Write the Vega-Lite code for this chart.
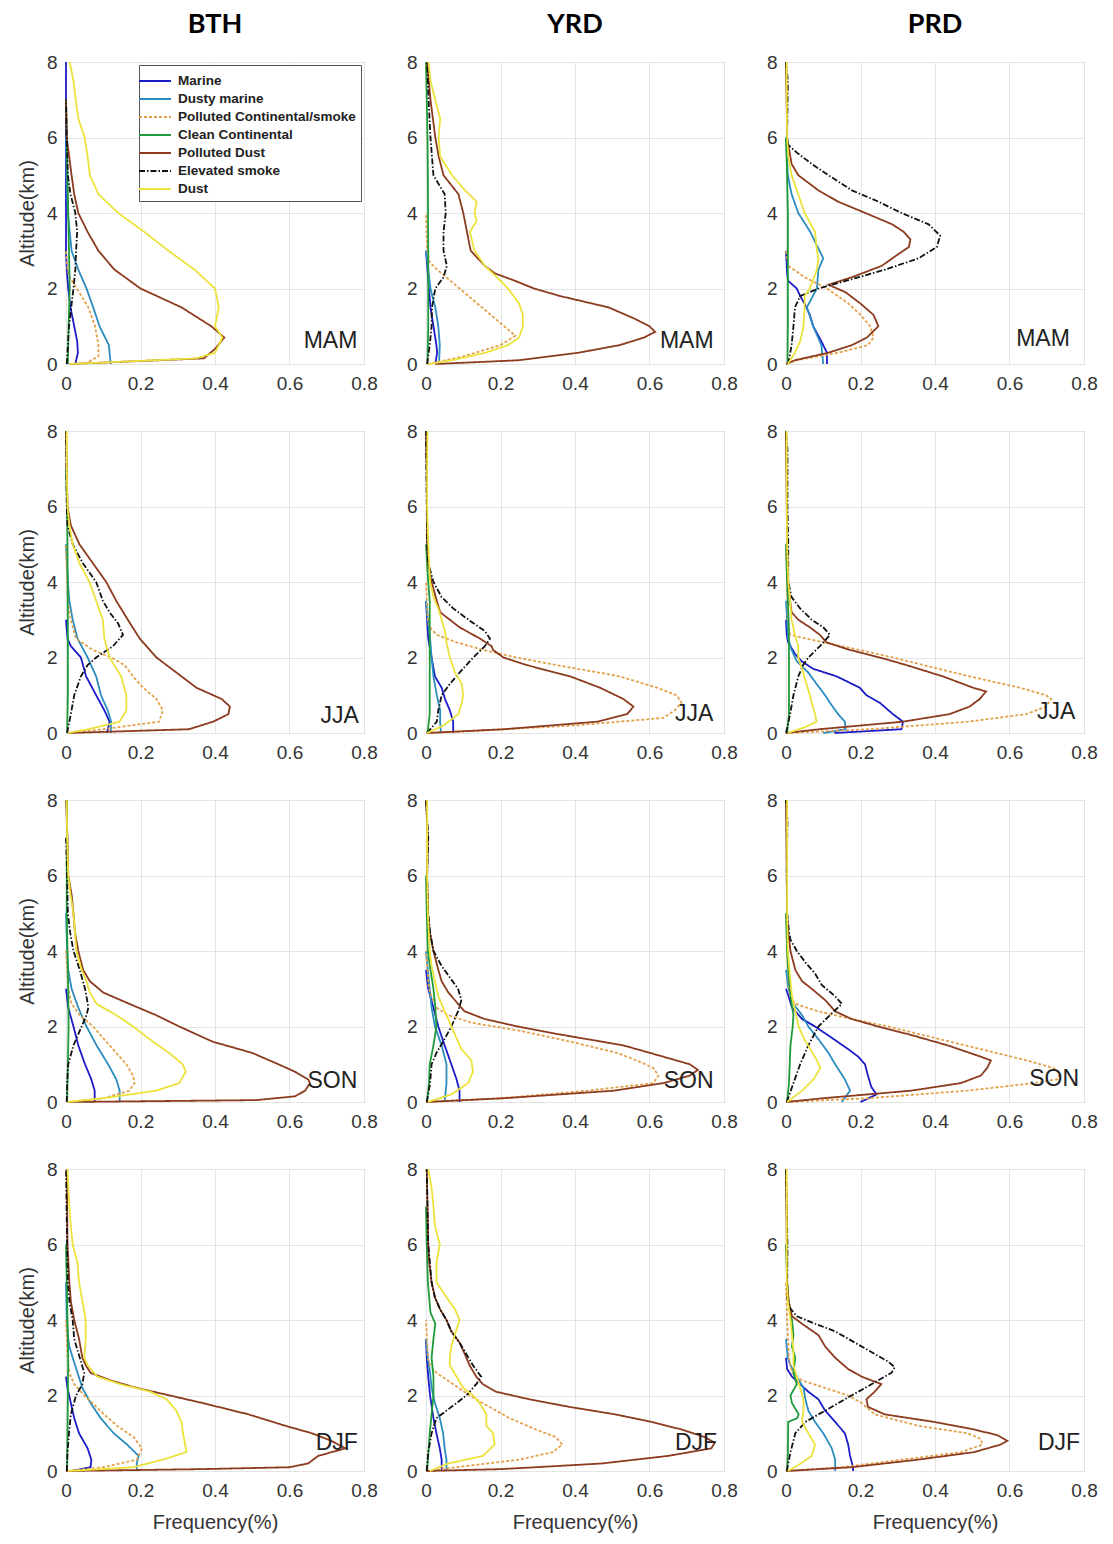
{
"$schema":"https://vega.github.io/schema/vega-lite/v6.json",
"padding":{"left":16,"top":10,"right":5,"bottom":5},
"background":"white",
"datasets":{
"BTH_MAM":[
{"t":"M","a":0,"f":0.025},{"t":"M","a":0.3,"f":0.032},{"t":"M","a":0.6,"f":0.03},{"t":"M","a":1,"f":0.022},{"t":"M","a":1.5,"f":0.012},{"t":"M","a":2,"f":0.006},{"t":"M","a":2.5,"f":0.002},{"t":"M","a":3,"f":0},{"t":"M","a":8,"f":0},
{"t":"DM","a":0,"f":0.12},{"t":"DM","a":0.5,"f":0.115},{"t":"DM","a":1,"f":0.09},{"t":"DM","a":1.5,"f":0.073},{"t":"DM","a":2,"f":0.055},{"t":"DM","a":2.5,"f":0.033},{"t":"DM","a":3,"f":0.015},{"t":"DM","a":4,"f":0.005},{"t":"DM","a":5,"f":0.002},{"t":"DM","a":6,"f":0},
{"t":"PC","a":0,"f":0.05},{"t":"PC","a":0.2,"f":0.087},{"t":"PC","a":0.5,"f":0.087},{"t":"PC","a":1,"f":0.078},{"t":"PC","a":1.5,"f":0.06},{"t":"PC","a":2,"f":0.029},{"t":"PC","a":2.3,"f":0.01},{"t":"PC","a":2.5,"f":0.004},{"t":"PC","a":3,"f":0},
{"t":"CC","a":0,"f":0.005},{"t":"CC","a":1,"f":0.007},{"t":"CC","a":2,"f":0.01},{"t":"CC","a":3,"f":0.008},{"t":"CC","a":4,"f":0.006},{"t":"CC","a":5,"f":0.004},{"t":"CC","a":6,"f":0.002},{"t":"CC","a":7,"f":0},
{"t":"PD","a":0,"f":0.01},{"t":"PD","a":0.15,"f":0.37},{"t":"PD","a":0.4,"f":0.4},{"t":"PD","a":0.7,"f":0.425},{"t":"PD","a":1,"f":0.39},{"t":"PD","a":1.5,"f":0.31},{"t":"PD","a":2,"f":0.2},{"t":"PD","a":2.5,"f":0.13},{"t":"PD","a":3,"f":0.087},{"t":"PD","a":3.5,"f":0.058},{"t":"PD","a":4,"f":0.033},{"t":"PD","a":4.5,"f":0.022},{"t":"PD","a":5,"f":0.015},{"t":"PD","a":6,"f":0.002},{"t":"PD","a":7,"f":0},
{"t":"ES","a":0,"f":0.002},{"t":"ES","a":1,"f":0.008},{"t":"ES","a":2,"f":0.02},{"t":"ES","a":2.5,"f":0.025},{"t":"ES","a":3,"f":0.027},{"t":"ES","a":3.5,"f":0.03},{"t":"ES","a":4,"f":0.025},{"t":"ES","a":4.5,"f":0.012},{"t":"ES","a":5,"f":0.005},{"t":"ES","a":6,"f":0.002},{"t":"ES","a":7,"f":0},
{"t":"D","a":0,"f":0.01},{"t":"D","a":0.15,"f":0.35},{"t":"D","a":0.3,"f":0.4},{"t":"D","a":0.7,"f":0.42},{"t":"D","a":1,"f":0.4},{"t":"D","a":1.5,"f":0.41},{"t":"D","a":2,"f":0.4},{"t":"D","a":2.5,"f":0.345},{"t":"D","a":3,"f":0.275},{"t":"D","a":3.5,"f":0.21},{"t":"D","a":4,"f":0.14},{"t":"D","a":4.5,"f":0.087},{"t":"D","a":5,"f":0.064},{"t":"D","a":5.5,"f":0.058},{"t":"D","a":6,"f":0.05},{"t":"D","a":6.5,"f":0.033},{"t":"D","a":7,"f":0.026},{"t":"D","a":7.5,"f":0.02},{"t":"D","a":8,"f":0.01}
],
"YRD_MAM":[
{"t":"M","a":0,"f":0.025},{"t":"M","a":0.3,"f":0.03},{"t":"M","a":0.5,"f":0.028},{"t":"M","a":1,"f":0.02},{"t":"M","a":1.5,"f":0.012},{"t":"M","a":2,"f":0.008},{"t":"M","a":2.5,"f":0.004},{"t":"M","a":3,"f":0},
{"t":"DM","a":0,"f":0.035},{"t":"DM","a":0.5,"f":0.037},{"t":"DM","a":1,"f":0.033},{"t":"DM","a":1.5,"f":0.025},{"t":"DM","a":2,"f":0.012},{"t":"DM","a":2.5,"f":0.006},{"t":"DM","a":3,"f":0},
{"t":"PC","a":0,"f":0.005},{"t":"PC","a":0.2,"f":0.1},{"t":"PC","a":0.5,"f":0.2},{"t":"PC","a":0.75,"f":0.24},{"t":"PC","a":1,"f":0.21},{"t":"PC","a":1.5,"f":0.15},{"t":"PC","a":2,"f":0.09},{"t":"PC","a":2.5,"f":0.03},{"t":"PC","a":2.7,"f":0.01},{"t":"PC","a":3,"f":0.003},{"t":"PC","a":4,"f":0},
{"t":"CC","a":0,"f":0.004},{"t":"CC","a":1,"f":0.006},{"t":"CC","a":3,"f":0.006},{"t":"CC","a":5,"f":0.005},{"t":"CC","a":6,"f":0.004},{"t":"CC","a":7,"f":0.002},{"t":"CC","a":8,"f":0},
{"t":"PD","a":0,"f":0.025},{"t":"PD","a":0.1,"f":0.25},{"t":"PD","a":0.3,"f":0.41},{"t":"PD","a":0.5,"f":0.52},{"t":"PD","a":0.7,"f":0.585},{"t":"PD","a":0.85,"f":0.615},{"t":"PD","a":1,"f":0.6},{"t":"PD","a":1.2,"f":0.56},{"t":"PD","a":1.5,"f":0.49},{"t":"PD","a":1.8,"f":0.36},{"t":"PD","a":2,"f":0.29},{"t":"PD","a":2.2,"f":0.24},{"t":"PD","a":2.4,"f":0.185},{"t":"PD","a":2.6,"f":0.158},{"t":"PD","a":3,"f":0.12},{"t":"PD","a":3.5,"f":0.11},{"t":"PD","a":4,"f":0.1},{"t":"PD","a":4.5,"f":0.087},{"t":"PD","a":5,"f":0.047},{"t":"PD","a":5.5,"f":0.034},{"t":"PD","a":6,"f":0.025},{"t":"PD","a":7,"f":0.012},{"t":"PD","a":8,"f":0.003},
{"t":"ES","a":0,"f":0.003},{"t":"ES","a":0.5,"f":0.01},{"t":"ES","a":1,"f":0.015},{"t":"ES","a":1.5,"f":0.016},{"t":"ES","a":2,"f":0.025},{"t":"ES","a":2.3,"f":0.047},{"t":"ES","a":2.6,"f":0.056},{"t":"ES","a":3,"f":0.047},{"t":"ES","a":3.5,"f":0.047},{"t":"ES","a":4,"f":0.053},{"t":"ES","a":4.5,"f":0.05},{"t":"ES","a":5,"f":0.02},{"t":"ES","a":5.5,"f":0.016},{"t":"ES","a":6,"f":0.012},{"t":"ES","a":7,"f":0.007},{"t":"ES","a":8,"f":0.003},
{"t":"D","a":0,"f":0.007},{"t":"D","a":0.1,"f":0.07},{"t":"D","a":0.3,"f":0.16},{"t":"D","a":0.5,"f":0.22},{"t":"D","a":0.7,"f":0.25},{"t":"D","a":1,"f":0.26},{"t":"D","a":1.3,"f":0.26},{"t":"D","a":1.6,"f":0.25},{"t":"D","a":2,"f":0.22},{"t":"D","a":2.3,"f":0.19},{"t":"D","a":2.6,"f":0.158},{"t":"D","a":3,"f":0.13},{"t":"D","a":3.5,"f":0.118},{"t":"D","a":3.8,"f":0.136},{"t":"D","a":4,"f":0.13},{"t":"D","a":4.3,"f":0.136},{"t":"D","a":4.6,"f":0.105},{"t":"D","a":5,"f":0.07},{"t":"D","a":5.5,"f":0.038},{"t":"D","a":6,"f":0.034},{"t":"D","a":6.5,"f":0.038},{"t":"D","a":7,"f":0.025},{"t":"D","a":7.5,"f":0.012},{"t":"D","a":8,"f":0.007}
],
"PRD_MAM":[
{"t":"M","a":0,"f":0.11},{"t":"M","a":0.3,"f":0.11},{"t":"M","a":0.6,"f":0.095},{"t":"M","a":1,"f":0.073},{"t":"M","a":1.3,"f":0.064},{"t":"M","a":1.6,"f":0.05},{"t":"M","a":1.8,"f":0.038},{"t":"M","a":2,"f":0.029},{"t":"M","a":2.2,"f":0.006},{"t":"M","a":2.4,"f":0.003},{"t":"M","a":3,"f":0},
{"t":"DM","a":0,"f":0.1},{"t":"DM","a":0.5,"f":0.095},{"t":"DM","a":1,"f":0.073},{"t":"DM","a":1.5,"f":0.056},{"t":"DM","a":2,"f":0.083},{"t":"DM","a":2.5,"f":0.087},{"t":"DM","a":2.8,"f":0.1},{"t":"DM","a":3,"f":0.09},{"t":"DM","a":3.5,"f":0.065},{"t":"DM","a":4,"f":0.033},{"t":"DM","a":4.5,"f":0.015},{"t":"DM","a":5,"f":0.005},{"t":"DM","a":6,"f":0},
{"t":"PC","a":0,"f":0},{"t":"PC","a":0.1,"f":0.03},{"t":"PC","a":0.3,"f":0.14},{"t":"PC","a":0.5,"f":0.22},{"t":"PC","a":0.7,"f":0.235},{"t":"PC","a":1,"f":0.226},{"t":"PC","a":1.3,"f":0.2},{"t":"PC","a":1.6,"f":0.168},{"t":"PC","a":2,"f":0.11},{"t":"PC","a":2.3,"f":0.05},{"t":"PC","a":2.6,"f":0.006},{"t":"PC","a":3,"f":0},
{"t":"CC","a":0,"f":0.004},{"t":"CC","a":1,"f":0.005},{"t":"CC","a":4,"f":0.005},{"t":"CC","a":5,"f":0.003},{"t":"CC","a":6,"f":0},
{"t":"PD","a":0,"f":0},{"t":"PD","a":0.1,"f":0.024},{"t":"PD","a":0.3,"f":0.114},{"t":"PD","a":0.5,"f":0.177},{"t":"PD","a":0.7,"f":0.217},{"t":"PD","a":1,"f":0.248},{"t":"PD","a":1.3,"f":0.235},{"t":"PD","a":1.6,"f":0.2},{"t":"PD","a":1.9,"f":0.16},{"t":"PD","a":2.1,"f":0.114},{"t":"PD","a":2.3,"f":0.177},{"t":"PD","a":2.6,"f":0.257},{"t":"PD","a":2.9,"f":0.3},{"t":"PD","a":3.1,"f":0.33},{"t":"PD","a":3.3,"f":0.334},{"t":"PD","a":3.5,"f":0.316},{"t":"PD","a":3.7,"f":0.285},{"t":"PD","a":4,"f":0.213},{"t":"PD","a":4.3,"f":0.14},{"t":"PD","a":4.6,"f":0.087},{"t":"PD","a":5,"f":0.033},{"t":"PD","a":5.3,"f":0.015},{"t":"PD","a":6,"f":0.003},{"t":"PD","a":8,"f":0},
{"t":"ES","a":0,"f":0.006},{"t":"ES","a":0.5,"f":0.015},{"t":"ES","a":1,"f":0.02},{"t":"ES","a":1.5,"f":0.024},{"t":"ES","a":1.8,"f":0.038},{"t":"ES","a":2,"f":0.087},{"t":"ES","a":2.2,"f":0.16},{"t":"ES","a":2.5,"f":0.266},{"t":"ES","a":2.8,"f":0.356},{"t":"ES","a":3.1,"f":0.405},{"t":"ES","a":3.4,"f":0.414},{"t":"ES","a":3.7,"f":0.383},{"t":"ES","a":4,"f":0.31},{"t":"ES","a":4.3,"f":0.248},{"t":"ES","a":4.6,"f":0.177},{"t":"ES","a":5,"f":0.114},{"t":"ES","a":5.3,"f":0.069},{"t":"ES","a":5.6,"f":0.029},{"t":"ES","a":5.8,"f":0.006},{"t":"ES","a":6,"f":0.003},{"t":"ES","a":7.5,"f":0.005},{"t":"ES","a":8,"f":0},
{"t":"D","a":0,"f":0.005},{"t":"D","a":0.3,"f":0.024},{"t":"D","a":0.6,"f":0.038},{"t":"D","a":1,"f":0.047},{"t":"D","a":1.5,"f":0.05},{"t":"D","a":1.8,"f":0.05},{"t":"D","a":2,"f":0.064},{"t":"D","a":2.5,"f":0.083},{"t":"D","a":2.8,"f":0.087},{"t":"D","a":3,"f":0.083},{"t":"D","a":3.5,"f":0.078},{"t":"D","a":4,"f":0.05},{"t":"D","a":4.5,"f":0.033},{"t":"D","a":5,"f":0.015},{"t":"D","a":5.5,"f":0.006},{"t":"D","a":6,"f":0.003},{"t":"D","a":7,"f":0.002},{"t":"D","a":8,"f":0.002}
],
"BTH_JJA":[
{"t":"M","a":0,"f":0.11},{"t":"M","a":0.3,"f":0.117},{"t":"M","a":0.6,"f":0.103},{"t":"M","a":1,"f":0.081},{"t":"M","a":1.5,"f":0.054},{"t":"M","a":2,"f":0.04},{"t":"M","a":2.3,"f":0.013},{"t":"M","a":2.5,"f":0.004},{"t":"M","a":3,"f":0},
{"t":"DM","a":0,"f":0.12},{"t":"DM","a":0.3,"f":0.121},{"t":"DM","a":0.6,"f":0.112},{"t":"DM","a":1,"f":0.094},{"t":"DM","a":1.5,"f":0.081},{"t":"DM","a":2,"f":0.058},{"t":"DM","a":2.5,"f":0.031},{"t":"DM","a":3,"f":0.018},{"t":"DM","a":3.5,"f":0.009},{"t":"DM","a":4,"f":0.005},{"t":"DM","a":5,"f":0},
{"t":"PC","a":0,"f":0.005},{"t":"PC","a":0.1,"f":0.1},{"t":"PC","a":0.3,"f":0.25},{"t":"PC","a":0.6,"f":0.26},{"t":"PC","a":0.9,"f":0.243},{"t":"PC","a":1.2,"f":0.207},{"t":"PC","a":1.5,"f":0.18},{"t":"PC","a":1.8,"f":0.157},{"t":"PC","a":2,"f":0.121},{"t":"PC","a":2.2,"f":0.072},{"t":"PC","a":2.5,"f":0.027},{"t":"PC","a":3,"f":0.013},{"t":"PC","a":3.5,"f":0.005},{"t":"PC","a":4,"f":0.003},{"t":"PC","a":5,"f":0},
{"t":"CC","a":0,"f":0.003},{"t":"CC","a":1,"f":0.005},{"t":"CC","a":3,"f":0.005},{"t":"CC","a":5,"f":0.004},{"t":"CC","a":6,"f":0.003},{"t":"CC","a":7,"f":0},
{"t":"PD","a":0,"f":0.005},{"t":"PD","a":0.1,"f":0.33},{"t":"PD","a":0.3,"f":0.395},{"t":"PD","a":0.5,"f":0.436},{"t":"PD","a":0.7,"f":0.44},{"t":"PD","a":0.9,"f":0.418},{"t":"PD","a":1.2,"f":0.35},{"t":"PD","a":1.5,"f":0.31},{"t":"PD","a":2,"f":0.243},{"t":"PD","a":2.5,"f":0.198},{"t":"PD","a":3,"f":0.166},{"t":"PD","a":3.5,"f":0.135},{"t":"PD","a":4,"f":0.108},{"t":"PD","a":4.5,"f":0.072},{"t":"PD","a":5,"f":0.036},{"t":"PD","a":5.5,"f":0.013},{"t":"PD","a":6,"f":0.004},{"t":"PD","a":7,"f":0.002},{"t":"PD","a":8,"f":0},
{"t":"ES","a":0,"f":0.003},{"t":"ES","a":0.5,"f":0.013},{"t":"ES","a":1,"f":0.022},{"t":"ES","a":1.5,"f":0.04},{"t":"ES","a":1.8,"f":0.058},{"t":"ES","a":2,"f":0.081},{"t":"ES","a":2.3,"f":0.126},{"t":"ES","a":2.6,"f":0.153},{"t":"ES","a":2.9,"f":0.14},{"t":"ES","a":3.2,"f":0.117},{"t":"ES","a":3.5,"f":0.099},{"t":"ES","a":4,"f":0.081},{"t":"ES","a":4.5,"f":0.045},{"t":"ES","a":5,"f":0.018},{"t":"ES","a":5.5,"f":0.004},{"t":"ES","a":6,"f":0.002},{"t":"ES","a":8,"f":0},
{"t":"D","a":0,"f":0.005},{"t":"D","a":0.1,"f":0.06},{"t":"D","a":0.3,"f":0.144},{"t":"D","a":0.6,"f":0.162},{"t":"D","a":1,"f":0.162},{"t":"D","a":1.5,"f":0.148},{"t":"D","a":2,"f":0.117},{"t":"D","a":2.5,"f":0.103},{"t":"D","a":3,"f":0.099},{"t":"D","a":3.5,"f":0.081},{"t":"D","a":4,"f":0.063},{"t":"D","a":4.5,"f":0.036},{"t":"D","a":5,"f":0.018},{"t":"D","a":5.5,"f":0.009},{"t":"D","a":6,"f":0.004},{"t":"D","a":7,"f":0.002},{"t":"D","a":8,"f":0.002}
],
"YRD_JJA":[
{"t":"M","a":0,"f":0.073},{"t":"M","a":0.3,"f":0.073},{"t":"M","a":0.6,"f":0.064},{"t":"M","a":0.9,"f":0.051},{"t":"M","a":1.2,"f":0.042},{"t":"M","a":1.5,"f":0.024},{"t":"M","a":2,"f":0.015},{"t":"M","a":2.5,"f":0.006},{"t":"M","a":3,"f":0.003},{"t":"M","a":3.5,"f":0},
{"t":"DM","a":0,"f":0.04},{"t":"DM","a":0.3,"f":0.038},{"t":"DM","a":0.6,"f":0.038},{"t":"DM","a":1,"f":0.029},{"t":"DM","a":1.5,"f":0.02},{"t":"DM","a":2,"f":0.015},{"t":"DM","a":2.5,"f":0.011},{"t":"DM","a":3,"f":0.005},{"t":"DM","a":3.5,"f":0},
{"t":"PC","a":0,"f":0.002},{"t":"PC","a":0.05,"f":0.12},{"t":"PC","a":0.2,"f":0.4},{"t":"PC","a":0.4,"f":0.637},{"t":"PC","a":0.6,"f":0.668},{"t":"PC","a":0.8,"f":0.686},{"t":"PC","a":1,"f":0.673},{"t":"PC","a":1.2,"f":0.62},{"t":"PC","a":1.5,"f":0.52},{"t":"PC","a":1.8,"f":0.35},{"t":"PC","a":2,"f":0.243},{"t":"PC","a":2.2,"f":0.154},{"t":"PC","a":2.4,"f":0.082},{"t":"PC","a":2.6,"f":0.029},{"t":"PC","a":2.8,"f":0.01},{"t":"PC","a":3,"f":0.005},{"t":"PC","a":4,"f":0},
{"t":"CC","a":0,"f":0.004},{"t":"CC","a":0.5,"f":0.01},{"t":"CC","a":3.5,"f":0.01},{"t":"CC","a":4,"f":0.006},{"t":"CC","a":4.5,"f":0.003},{"t":"CC","a":5,"f":0},
{"t":"PD","a":0,"f":0.003},{"t":"PD","a":0.1,"f":0.21},{"t":"PD","a":0.3,"f":0.46},{"t":"PD","a":0.5,"f":0.54},{"t":"PD","a":0.7,"f":0.557},{"t":"PD","a":0.9,"f":0.53},{"t":"PD","a":1.2,"f":0.467},{"t":"PD","a":1.5,"f":0.387},{"t":"PD","a":1.8,"f":0.27},{"t":"PD","a":2,"f":0.208},{"t":"PD","a":2.2,"f":0.18},{"t":"PD","a":2.3,"f":0.176},{"t":"PD","a":2.5,"f":0.145},{"t":"PD","a":2.8,"f":0.09},{"t":"PD","a":3,"f":0.064},{"t":"PD","a":3.2,"f":0.038},{"t":"PD","a":3.5,"f":0.029},{"t":"PD","a":4,"f":0.015},{"t":"PD","a":4.5,"f":0.006},{"t":"PD","a":5,"f":0.003},{"t":"PD","a":7,"f":0.002},{"t":"PD","a":8,"f":0},
{"t":"ES","a":0,"f":0.003},{"t":"ES","a":0.3,"f":0.029},{"t":"ES","a":0.6,"f":0.033},{"t":"ES","a":1,"f":0.042},{"t":"ES","a":1.3,"f":0.064},{"t":"ES","a":1.6,"f":0.09},{"t":"ES","a":2,"f":0.127},{"t":"ES","a":2.3,"f":0.158},{"t":"ES","a":2.5,"f":0.172},{"t":"ES","a":2.7,"f":0.158},{"t":"ES","a":3,"f":0.114},{"t":"ES","a":3.3,"f":0.073},{"t":"ES","a":3.6,"f":0.042},{"t":"ES","a":4,"f":0.02},{"t":"ES","a":4.5,"f":0.006},{"t":"ES","a":5,"f":0.003},{"t":"ES","a":8,"f":0},
{"t":"D","a":0,"f":0.003},{"t":"D","a":0.2,"f":0.047},{"t":"D","a":0.5,"f":0.087},{"t":"D","a":0.8,"f":0.096},{"t":"D","a":1,"f":0.1},{"t":"D","a":1.3,"f":0.096},{"t":"D","a":1.6,"f":0.078},{"t":"D","a":2,"f":0.064},{"t":"D","a":2.4,"f":0.055},{"t":"D","a":2.7,"f":0.051},{"t":"D","a":3,"f":0.042},{"t":"D","a":3.3,"f":0.033},{"t":"D","a":3.6,"f":0.02},{"t":"D","a":4,"f":0.011},{"t":"D","a":5,"f":0.006},{"t":"D","a":6,"f":0.003},{"t":"D","a":7,"f":0.003},{"t":"D","a":8,"f":0.004}
],
"PRD_JJA":[
{"t":"M","a":0,"f":0.13},{"t":"M","a":0.1,"f":0.31},{"t":"M","a":0.3,"f":0.314},{"t":"M","a":0.5,"f":0.287},{"t":"M","a":0.8,"f":0.252},{"t":"M","a":1,"f":0.216},{"t":"M","a":1.2,"f":0.198},{"t":"M","a":1.5,"f":0.136},{"t":"M","a":1.7,"f":0.073},{"t":"M","a":1.9,"f":0.042},{"t":"M","a":2.1,"f":0.024},{"t":"M","a":2.4,"f":0.006},{"t":"M","a":2.6,"f":0.002},{"t":"M","a":3,"f":0},
{"t":"DM","a":0,"f":0.1},{"t":"DM","a":0.1,"f":0.16},{"t":"DM","a":0.3,"f":0.158},{"t":"DM","a":0.5,"f":0.14},{"t":"DM","a":0.8,"f":0.118},{"t":"DM","a":1,"f":0.105},{"t":"DM","a":1.3,"f":0.082},{"t":"DM","a":1.6,"f":0.06},{"t":"DM","a":1.9,"f":0.029},{"t":"DM","a":2.2,"f":0.015},{"t":"DM","a":2.5,"f":0.006},{"t":"DM","a":3,"f":0.003},{"t":"DM","a":3.5,"f":0},
{"t":"PC","a":0,"f":0},{"t":"PC","a":0.1,"f":0.225},{"t":"PC","a":0.3,"f":0.49},{"t":"PC","a":0.5,"f":0.645},{"t":"PC","a":0.7,"f":0.698},{"t":"PC","a":0.9,"f":0.712},{"t":"PC","a":1,"f":0.698},{"t":"PC","a":1.2,"f":0.627},{"t":"PC","a":1.5,"f":0.493},{"t":"PC","a":1.8,"f":0.368},{"t":"PC","a":2,"f":0.287},{"t":"PC","a":2.2,"f":0.198},{"t":"PC","a":2.4,"f":0.1},{"t":"PC","a":2.6,"f":0.011},{"t":"PC","a":3,"f":0.005},{"t":"PC","a":4,"f":0.003},{"t":"PC","a":5,"f":0},
{"t":"CC","a":0,"f":0.003},{"t":"CC","a":0.5,"f":0.008},{"t":"CC","a":2.5,"f":0.008},{"t":"CC","a":3,"f":0.007},{"t":"CC","a":3.5,"f":0.005},{"t":"CC","a":4,"f":0.003},{"t":"CC","a":5,"f":0},
{"t":"PD","a":0,"f":0},{"t":"PD","a":0.1,"f":0.09},{"t":"PD","a":0.3,"f":0.314},{"t":"PD","a":0.5,"f":0.439},{"t":"PD","a":0.7,"f":0.493},{"t":"PD","a":0.9,"f":0.52},{"t":"PD","a":1.1,"f":0.537},{"t":"PD","a":1.2,"f":0.502},{"t":"PD","a":1.5,"f":0.421},{"t":"PD","a":1.8,"f":0.323},{"t":"PD","a":2,"f":0.252},{"t":"PD","a":2.2,"f":0.171},{"t":"PD","a":2.4,"f":0.109},{"t":"PD","a":2.6,"f":0.091},{"t":"PD","a":2.8,"f":0.064},{"t":"PD","a":3,"f":0.033},{"t":"PD","a":3.2,"f":0.015},{"t":"PD","a":3.5,"f":0.011},{"t":"PD","a":4,"f":0.006},{"t":"PD","a":5,"f":0.003},{"t":"PD","a":8,"f":0},
{"t":"ES","a":0,"f":0},{"t":"ES","a":0.5,"f":0.011},{"t":"ES","a":1,"f":0.02},{"t":"ES","a":1.5,"f":0.033},{"t":"ES","a":1.8,"f":0.046},{"t":"ES","a":2,"f":0.06},{"t":"ES","a":2.3,"f":0.091},{"t":"ES","a":2.6,"f":0.118},{"t":"ES","a":2.8,"f":0.1},{"t":"ES","a":3,"f":0.069},{"t":"ES","a":3.3,"f":0.038},{"t":"ES","a":3.6,"f":0.015},{"t":"ES","a":4,"f":0.006},{"t":"ES","a":5,"f":0.006},{"t":"ES","a":6,"f":0.004},{"t":"ES","a":7.5,"f":0.004},{"t":"ES","a":8,"f":0},
{"t":"D","a":0,"f":0.005},{"t":"D","a":0.15,"f":0.05},{"t":"D","a":0.3,"f":0.082},{"t":"D","a":0.5,"f":0.078},{"t":"D","a":0.8,"f":0.069},{"t":"D","a":1,"f":0.064},{"t":"D","a":1.3,"f":0.055},{"t":"D","a":1.6,"f":0.046},{"t":"D","a":2,"f":0.033},{"t":"D","a":2.3,"f":0.033},{"t":"D","a":2.6,"f":0.024},{"t":"D","a":3,"f":0.015},{"t":"D","a":3.5,"f":0.011},{"t":"D","a":4,"f":0.006},{"t":"D","a":5,"f":0.003},{"t":"D","a":6,"f":0.002},{"t":"D","a":8,"f":0.002}
],
"BTH_SON":[
{"t":"M","a":0,"f":0.077},{"t":"M","a":0.3,"f":0.077},{"t":"M","a":0.6,"f":0.068},{"t":"M","a":1,"f":0.051},{"t":"M","a":1.5,"f":0.033},{"t":"M","a":2,"f":0.02},{"t":"M","a":2.5,"f":0.006},{"t":"M","a":3,"f":0},
{"t":"DM","a":0,"f":0.144},{"t":"DM","a":0.3,"f":0.144},{"t":"DM","a":0.6,"f":0.135},{"t":"DM","a":1,"f":0.113},{"t":"DM","a":1.5,"f":0.082},{"t":"DM","a":2,"f":0.055},{"t":"DM","a":2.5,"f":0.033},{"t":"DM","a":3,"f":0.015},{"t":"DM","a":3.5,"f":0.006},{"t":"DM","a":4,"f":0.003},{"t":"DM","a":5,"f":0},
{"t":"PC","a":0,"f":0.005},{"t":"PC","a":0.1,"f":0.1},{"t":"PC","a":0.3,"f":0.17},{"t":"PC","a":0.5,"f":0.184},{"t":"PC","a":0.7,"f":0.18},{"t":"PC","a":1,"f":0.162},{"t":"PC","a":1.3,"f":0.135},{"t":"PC","a":1.6,"f":0.108},{"t":"PC","a":2,"f":0.073},{"t":"PC","a":2.3,"f":0.037},{"t":"PC","a":2.6,"f":0.015},{"t":"PC","a":3,"f":0.006},{"t":"PC","a":3.5,"f":0.003},{"t":"PC","a":4,"f":0},
{"t":"CC","a":0,"f":0.003},{"t":"CC","a":1,"f":0.005},{"t":"CC","a":2,"f":0.007},{"t":"CC","a":3,"f":0.006},{"t":"CC","a":4,"f":0.004},{"t":"CC","a":5,"f":0.002},{"t":"CC","a":6,"f":0.002},{"t":"CC","a":8,"f":0.003},
{"t":"PD","a":0,"f":0.005},{"t":"PD","a":0.05,"f":0.51},{"t":"PD","a":0.15,"f":0.615},{"t":"PD","a":0.3,"f":0.642},{"t":"PD","a":0.5,"f":0.655},{"t":"PD","a":0.6,"f":0.65},{"t":"PD","a":0.8,"f":0.615},{"t":"PD","a":1,"f":0.57},{"t":"PD","a":1.3,"f":0.5},{"t":"PD","a":1.6,"f":0.393},{"t":"PD","a":2,"f":0.304},{"t":"PD","a":2.3,"f":0.242},{"t":"PD","a":2.6,"f":0.17},{"t":"PD","a":2.9,"f":0.1},{"t":"PD","a":3.2,"f":0.064},{"t":"PD","a":3.5,"f":0.046},{"t":"PD","a":4,"f":0.033},{"t":"PD","a":4.5,"f":0.024},{"t":"PD","a":5,"f":0.02},{"t":"PD","a":5.5,"f":0.015},{"t":"PD","a":6,"f":0.006},{"t":"PD","a":7,"f":0.004},{"t":"PD","a":8,"f":0},
{"t":"ES","a":0,"f":0.002},{"t":"ES","a":0.5,"f":0.003},{"t":"ES","a":1,"f":0.006},{"t":"ES","a":1.5,"f":0.02},{"t":"ES","a":2,"f":0.042},{"t":"ES","a":2.3,"f":0.055},{"t":"ES","a":2.5,"f":0.06},{"t":"ES","a":2.8,"f":0.055},{"t":"ES","a":3,"f":0.051},{"t":"ES","a":3.5,"f":0.037},{"t":"ES","a":4,"f":0.02},{"t":"ES","a":4.5,"f":0.011},{"t":"ES","a":5,"f":0.005},{"t":"ES","a":6,"f":0.003},{"t":"ES","a":7,"f":0},
{"t":"D","a":0,"f":0.005},{"t":"D","a":0.1,"f":0.1},{"t":"D","a":0.3,"f":0.242},{"t":"D","a":0.5,"f":0.304},{"t":"D","a":0.8,"f":0.322},{"t":"D","a":1,"f":0.313},{"t":"D","a":1.3,"f":0.277},{"t":"D","a":1.6,"f":0.233},{"t":"D","a":2,"f":0.18},{"t":"D","a":2.3,"f":0.135},{"t":"D","a":2.6,"f":0.082},{"t":"D","a":2.9,"f":0.064},{"t":"D","a":3.2,"f":0.055},{"t":"D","a":3.5,"f":0.042},{"t":"D","a":4,"f":0.028},{"t":"D","a":4.5,"f":0.024},{"t":"D","a":5,"f":0.02},{"t":"D","a":5.5,"f":0.012},{"t":"D","a":6,"f":0.006},{"t":"D","a":7,"f":0.003},{"t":"D","a":8,"f":0.002}
],
"YRD_SON":[
{"t":"M","a":0,"f":0.09},{"t":"M","a":0.3,"f":0.09},{"t":"M","a":0.6,"f":0.082},{"t":"M","a":1,"f":0.068},{"t":"M","a":1.5,"f":0.05},{"t":"M","a":2,"f":0.033},{"t":"M","a":2.5,"f":0.02},{"t":"M","a":3,"f":0.006},{"t":"M","a":3.5,"f":0},
{"t":"DM","a":0,"f":0.05},{"t":"DM","a":0.5,"f":0.055},{"t":"DM","a":1,"f":0.055},{"t":"DM","a":1.5,"f":0.042},{"t":"DM","a":2,"f":0.024},{"t":"DM","a":2.5,"f":0.015},{"t":"DM","a":3,"f":0.01},{"t":"DM","a":3.5,"f":0.005},{"t":"DM","a":4,"f":0},
{"t":"PC","a":0,"f":0},{"t":"PC","a":0.1,"f":0.2},{"t":"PC","a":0.3,"f":0.433},{"t":"PC","a":0.5,"f":0.61},{"t":"PC","a":0.7,"f":0.624},{"t":"PC","a":0.9,"f":0.61},{"t":"PC","a":1.1,"f":0.566},{"t":"PC","a":1.3,"f":0.513},{"t":"PC","a":1.6,"f":0.388},{"t":"PC","a":1.9,"f":0.246},{"t":"PC","a":2.1,"f":0.122},{"t":"PC","a":2.3,"f":0.06},{"t":"PC","a":2.5,"f":0.028},{"t":"PC","a":2.8,"f":0.015},{"t":"PC","a":3,"f":0.008},{"t":"PC","a":4,"f":0},
{"t":"CC","a":0,"f":0.003},{"t":"CC","a":0.5,"f":0.008},{"t":"CC","a":1,"f":0.01},{"t":"CC","a":1.5,"f":0.02},{"t":"CC","a":2,"f":0.028},{"t":"CC","a":2.5,"f":0.025},{"t":"CC","a":3,"f":0.02},{"t":"CC","a":3.5,"f":0.012},{"t":"CC","a":4,"f":0.005},{"t":"CC","a":5,"f":0.002},{"t":"CC","a":6,"f":0},
{"t":"PD","a":0,"f":0},{"t":"PD","a":0.1,"f":0.21},{"t":"PD","a":0.3,"f":0.504},{"t":"PD","a":0.5,"f":0.637},{"t":"PD","a":0.7,"f":0.708},{"t":"PD","a":0.85,"f":0.73},{"t":"PD","a":1,"f":0.708},{"t":"PD","a":1.2,"f":0.637},{"t":"PD","a":1.5,"f":0.53},{"t":"PD","a":1.8,"f":0.353},{"t":"PD","a":2,"f":0.246},{"t":"PD","a":2.2,"f":0.157},{"t":"PD","a":2.4,"f":0.104},{"t":"PD","a":2.6,"f":0.086},{"t":"PD","a":2.9,"f":0.06},{"t":"PD","a":3.2,"f":0.042},{"t":"PD","a":3.5,"f":0.033},{"t":"PD","a":4,"f":0.02},{"t":"PD","a":4.5,"f":0.01},{"t":"PD","a":5,"f":0.005},{"t":"PD","a":6,"f":0.003},{"t":"PD","a":7,"f":0.005},{"t":"PD","a":8,"f":0},
{"t":"ES","a":0,"f":0.002},{"t":"ES","a":0.5,"f":0.011},{"t":"ES","a":1,"f":0.015},{"t":"ES","a":1.3,"f":0.028},{"t":"ES","a":1.6,"f":0.046},{"t":"ES","a":2,"f":0.068},{"t":"ES","a":2.4,"f":0.086},{"t":"ES","a":2.7,"f":0.095},{"t":"ES","a":3,"f":0.086},{"t":"ES","a":3.3,"f":0.064},{"t":"ES","a":3.6,"f":0.042},{"t":"ES","a":4,"f":0.02},{"t":"ES","a":4.5,"f":0.011},{"t":"ES","a":5,"f":0.006},{"t":"ES","a":6,"f":0.003},{"t":"ES","a":7,"f":0.006},{"t":"ES","a":8,"f":0},
{"t":"D","a":0,"f":0.005},{"t":"D","a":0.2,"f":0.068},{"t":"D","a":0.5,"f":0.113},{"t":"D","a":0.8,"f":0.126},{"t":"D","a":1.1,"f":0.122},{"t":"D","a":1.4,"f":0.095},{"t":"D","a":1.8,"f":0.077},{"t":"D","a":2.1,"f":0.064},{"t":"D","a":2.5,"f":0.046},{"t":"D","a":2.8,"f":0.033},{"t":"D","a":3.2,"f":0.024},{"t":"D","a":3.6,"f":0.015},{"t":"D","a":4,"f":0.01},{"t":"D","a":5,"f":0.005},{"t":"D","a":6,"f":0.003},{"t":"D","a":8,"f":0.003}
],
"PRD_SON":[
{"t":"M","a":0,"f":0.2},{"t":"M","a":0.2,"f":0.243},{"t":"M","a":0.4,"f":0.229},{"t":"M","a":0.7,"f":0.22},{"t":"M","a":1,"f":0.212},{"t":"M","a":1.2,"f":0.194},{"t":"M","a":1.4,"f":0.167},{"t":"M","a":1.7,"f":0.123},{"t":"M","a":2,"f":0.078},{"t":"M","a":2.2,"f":0.043},{"t":"M","a":2.5,"f":0.016},{"t":"M","a":2.8,"f":0.007},{"t":"M","a":3,"f":0},
{"t":"DM","a":0,"f":0.15},{"t":"DM","a":0.3,"f":0.172},{"t":"DM","a":0.6,"f":0.158},{"t":"DM","a":1,"f":0.132},{"t":"DM","a":1.3,"f":0.114},{"t":"DM","a":1.6,"f":0.092},{"t":"DM","a":2,"f":0.06},{"t":"DM","a":2.3,"f":0.043},{"t":"DM","a":2.6,"f":0.02},{"t":"DM","a":3,"f":0.007},{"t":"DM","a":3.5,"f":0},
{"t":"PC","a":0,"f":0},{"t":"PC","a":0.1,"f":0.22},{"t":"PC","a":0.3,"f":0.487},{"t":"PC","a":0.5,"f":0.665},{"t":"PC","a":0.6,"f":0.727},{"t":"PC","a":0.75,"f":0.736},{"t":"PC","a":0.9,"f":0.718},{"t":"PC","a":1.1,"f":0.647},{"t":"PC","a":1.4,"f":0.523},{"t":"PC","a":1.7,"f":0.398},{"t":"PC","a":2,"f":0.274},{"t":"PC","a":2.2,"f":0.176},{"t":"PC","a":2.4,"f":0.087},{"t":"PC","a":2.6,"f":0.025},{"t":"PC","a":2.8,"f":0.012},{"t":"PC","a":3,"f":0.008},{"t":"PC","a":4,"f":0.003},{"t":"PC","a":5,"f":0},
{"t":"CC","a":0,"f":0.003},{"t":"CC","a":0.5,"f":0.008},{"t":"CC","a":1,"f":0.01},{"t":"CC","a":1.5,"f":0.012},{"t":"CC","a":2,"f":0.018},{"t":"CC","a":2.3,"f":0.02},{"t":"CC","a":2.6,"f":0.015},{"t":"CC","a":3,"f":0.01},{"t":"CC","a":3.5,"f":0.006},{"t":"CC","a":4,"f":0.003},{"t":"CC","a":5,"f":0},
{"t":"PD","a":0,"f":0},{"t":"PD","a":0.1,"f":0.1},{"t":"PD","a":0.3,"f":0.336},{"t":"PD","a":0.5,"f":0.469},{"t":"PD","a":0.7,"f":0.523},{"t":"PD","a":0.9,"f":0.54},{"t":"PD","a":1.1,"f":0.55},{"t":"PD","a":1.2,"f":0.523},{"t":"PD","a":1.5,"f":0.434},{"t":"PD","a":1.8,"f":0.327},{"t":"PD","a":2,"f":0.247},{"t":"PD","a":2.2,"f":0.176},{"t":"PD","a":2.4,"f":0.132},{"t":"PD","a":2.7,"f":0.105},{"t":"PD","a":3,"f":0.069},{"t":"PD","a":3.2,"f":0.043},{"t":"PD","a":3.5,"f":0.025},{"t":"PD","a":4,"f":0.012},{"t":"PD","a":4.5,"f":0.006},{"t":"PD","a":5,"f":0.003},{"t":"PD","a":8,"f":0},
{"t":"ES","a":0,"f":0.002},{"t":"ES","a":0.5,"f":0.02},{"t":"ES","a":1,"f":0.038},{"t":"ES","a":1.5,"f":0.06},{"t":"ES","a":2,"f":0.087},{"t":"ES","a":2.3,"f":0.118},{"t":"ES","a":2.6,"f":0.15},{"t":"ES","a":2.8,"f":0.132},{"t":"ES","a":3.1,"f":0.096},{"t":"ES","a":3.4,"f":0.078},{"t":"ES","a":3.7,"f":0.052},{"t":"ES","a":4,"f":0.029},{"t":"ES","a":4.3,"f":0.012},{"t":"ES","a":4.5,"f":0.008},{"t":"ES","a":5,"f":0.003},{"t":"ES","a":6,"f":0.002},{"t":"ES","a":7.5,"f":0.004},{"t":"ES","a":8,"f":0},
{"t":"D","a":0,"f":0.003},{"t":"D","a":0.3,"f":0.043},{"t":"D","a":0.6,"f":0.074},{"t":"D","a":0.9,"f":0.092},{"t":"D","a":1.1,"f":0.083},{"t":"D","a":1.4,"f":0.065},{"t":"D","a":1.7,"f":0.047},{"t":"D","a":2,"f":0.034},{"t":"D","a":2.4,"f":0.025},{"t":"D","a":2.8,"f":0.016},{"t":"D","a":3.2,"f":0.012},{"t":"D","a":4,"f":0.005},{"t":"D","a":5,"f":0.003},{"t":"D","a":8,"f":0.003}
],
"BTH_DJF":[
{"t":"M","a":0,"f":0.015},{"t":"M","a":0.1,"f":0.066},{"t":"M","a":0.3,"f":0.068},{"t":"M","a":0.6,"f":0.058},{"t":"M","a":1,"f":0.035},{"t":"M","a":1.4,"f":0.022},{"t":"M","a":1.8,"f":0.013},{"t":"M","a":2.2,"f":0.004},{"t":"M","a":2.5,"f":0},
{"t":"DM","a":0,"f":0.19},{"t":"DM","a":0.2,"f":0.19},{"t":"DM","a":0.4,"f":0.195},{"t":"DM","a":0.7,"f":0.164},{"t":"DM","a":1,"f":0.128},{"t":"DM","a":1.4,"f":0.093},{"t":"DM","a":1.8,"f":0.066},{"t":"DM","a":2.2,"f":0.044},{"t":"DM","a":2.6,"f":0.031},{"t":"DM","a":3,"f":0.018},{"t":"DM","a":3.3,"f":0.009},{"t":"DM","a":3.5,"f":0.006},{"t":"DM","a":4,"f":0.002},{"t":"DM","a":5,"f":0},
{"t":"PC","a":0,"f":0.003},{"t":"PC","a":0.1,"f":0.1},{"t":"PC","a":0.3,"f":0.19},{"t":"PC","a":0.6,"f":0.204},{"t":"PC","a":0.9,"f":0.181},{"t":"PC","a":1.2,"f":0.137},{"t":"PC","a":1.5,"f":0.102},{"t":"PC","a":1.8,"f":0.071},{"t":"PC","a":2,"f":0.049},{"t":"PC","a":2.3,"f":0.022},{"t":"PC","a":2.6,"f":0.009},{"t":"PC","a":3,"f":0.004},{"t":"PC","a":4,"f":0},
{"t":"CC","a":0,"f":0.003},{"t":"CC","a":1,"f":0.004},{"t":"CC","a":2,"f":0.005},{"t":"CC","a":3,"f":0.006},{"t":"CC","a":4,"f":0.004},{"t":"CC","a":4.5,"f":0.003},{"t":"CC","a":5,"f":0.002},{"t":"CC","a":6,"f":0},
{"t":"PD","a":0,"f":0},{"t":"PD","a":0.05,"f":0.367},{"t":"PD","a":0.1,"f":0.6},{"t":"PD","a":0.2,"f":0.65},{"t":"PD","a":0.4,"f":0.677},{"t":"PD","a":0.6,"f":0.75},{"t":"PD","a":0.8,"f":0.712},{"t":"PD","a":1,"f":0.66},{"t":"PD","a":1.2,"f":0.588},{"t":"PD","a":1.5,"f":0.49},{"t":"PD","a":1.8,"f":0.367},{"t":"PD","a":2,"f":0.279},{"t":"PD","a":2.2,"f":0.19},{"t":"PD","a":2.4,"f":0.12},{"t":"PD","a":2.6,"f":0.066},{"t":"PD","a":2.8,"f":0.053},{"t":"PD","a":3,"f":0.044},{"t":"PD","a":3.5,"f":0.035},{"t":"PD","a":4,"f":0.022},{"t":"PD","a":4.5,"f":0.013},{"t":"PD","a":5,"f":0.009},{"t":"PD","a":6,"f":0.004},{"t":"PD","a":7,"f":0.003},{"t":"PD","a":8,"f":0.002},
{"t":"ES","a":0,"f":0.002},{"t":"ES","a":0.5,"f":0.004},{"t":"ES","a":1,"f":0.008},{"t":"ES","a":1.5,"f":0.013},{"t":"ES","a":2,"f":0.027},{"t":"ES","a":2.3,"f":0.044},{"t":"ES","a":2.6,"f":0.049},{"t":"ES","a":2.9,"f":0.04},{"t":"ES","a":3.2,"f":0.031},{"t":"ES","a":3.5,"f":0.022},{"t":"ES","a":4,"f":0.018},{"t":"ES","a":4.5,"f":0.009},{"t":"ES","a":5,"f":0.005},{"t":"ES","a":6,"f":0.003},{"t":"ES","a":8,"f":0},
{"t":"D","a":0,"f":0.005},{"t":"D","a":0.1,"f":0.18},{"t":"D","a":0.3,"f":0.26},{"t":"D","a":0.5,"f":0.323},{"t":"D","a":0.8,"f":0.318},{"t":"D","a":1,"f":0.314},{"t":"D","a":1.3,"f":0.31},{"t":"D","a":1.6,"f":0.296},{"t":"D","a":1.9,"f":0.27},{"t":"D","a":2.1,"f":0.226},{"t":"D","a":2.3,"f":0.146},{"t":"D","a":2.5,"f":0.084},{"t":"D","a":2.8,"f":0.058},{"t":"D","a":3,"f":0.049},{"t":"D","a":3.5,"f":0.053},{"t":"D","a":4,"f":0.053},{"t":"D","a":4.5,"f":0.044},{"t":"D","a":5,"f":0.035},{"t":"D","a":5.5,"f":0.031},{"t":"D","a":6,"f":0.018},{"t":"D","a":6.5,"f":0.013},{"t":"D","a":7,"f":0.009},{"t":"D","a":8,"f":0.004}
],
"YRD_DJF":[
{"t":"M","a":0,"f":0.042},{"t":"M","a":0.3,"f":0.042},{"t":"M","a":0.6,"f":0.037},{"t":"M","a":1,"f":0.028},{"t":"M","a":1.4,"f":0.02},{"t":"M","a":2,"f":0.011},{"t":"M","a":2.5,"f":0.006},{"t":"M","a":3,"f":0.002},{"t":"M","a":3.5,"f":0},
{"t":"DM","a":0,"f":0.055},{"t":"DM","a":0.3,"f":0.055},{"t":"DM","a":0.6,"f":0.05},{"t":"DM","a":1,"f":0.046},{"t":"DM","a":1.4,"f":0.037},{"t":"DM","a":1.8,"f":0.024},{"t":"DM","a":2.2,"f":0.015},{"t":"DM","a":2.6,"f":0.011},{"t":"DM","a":3,"f":0.005},{"t":"DM","a":3.5,"f":0},
{"t":"PC","a":0,"f":0.002},{"t":"PC","a":0.1,"f":0.08},{"t":"PC","a":0.3,"f":0.25},{"t":"PC","a":0.5,"f":0.34},{"t":"PC","a":0.7,"f":0.366},{"t":"PC","a":0.9,"f":0.348},{"t":"PC","a":1.1,"f":0.295},{"t":"PC","a":1.4,"f":0.224},{"t":"PC","a":1.7,"f":0.17},{"t":"PC","a":2,"f":0.117},{"t":"PC","a":2.3,"f":0.073},{"t":"PC","a":2.6,"f":0.028},{"t":"PC","a":2.8,"f":0.011},{"t":"PC","a":3,"f":0.005},{"t":"PC","a":4,"f":0},
{"t":"CC","a":0,"f":0.003},{"t":"CC","a":1,"f":0.01},{"t":"CC","a":2,"f":0.02},{"t":"CC","a":2.5,"f":0.02},{"t":"CC","a":3,"f":0.015},{"t":"CC","a":3.5,"f":0.02},{"t":"CC","a":3.9,"f":0.025},{"t":"CC","a":4.2,"f":0.012},{"t":"CC","a":5,"f":0.005},{"t":"CC","a":6,"f":0.002},{"t":"CC","a":7,"f":0},
{"t":"PD","a":0,"f":0},{"t":"PD","a":0.05,"f":0.2},{"t":"PD","a":0.1,"f":0.295},{"t":"PD","a":0.2,"f":0.473},{"t":"PD","a":0.4,"f":0.65},{"t":"PD","a":0.6,"f":0.766},{"t":"PD","a":0.75,"f":0.775},{"t":"PD","a":0.9,"f":0.748},{"t":"PD","a":1.1,"f":0.686},{"t":"PD","a":1.3,"f":0.606},{"t":"PD","a":1.5,"f":0.508},{"t":"PD","a":1.7,"f":0.384},{"t":"PD","a":1.9,"f":0.277},{"t":"PD","a":2.1,"f":0.188},{"t":"PD","a":2.3,"f":0.153},{"t":"PD","a":2.5,"f":0.135},{"t":"PD","a":2.8,"f":0.117},{"t":"PD","a":3.1,"f":0.104},{"t":"PD","a":3.4,"f":0.09},{"t":"PD","a":3.7,"f":0.068},{"t":"PD","a":4,"f":0.055},{"t":"PD","a":4.3,"f":0.037},{"t":"PD","a":4.6,"f":0.024},{"t":"PD","a":5,"f":0.015},{"t":"PD","a":5.5,"f":0.009},{"t":"PD","a":6,"f":0.006},{"t":"PD","a":7,"f":0.004},{"t":"PD","a":8,"f":0.002},
{"t":"ES","a":0,"f":0.002},{"t":"ES","a":0.5,"f":0.006},{"t":"ES","a":1,"f":0.015},{"t":"ES","a":1.4,"f":0.028},{"t":"ES","a":1.6,"f":0.055},{"t":"ES","a":1.8,"f":0.082},{"t":"ES","a":2,"f":0.108},{"t":"ES","a":2.3,"f":0.135},{"t":"ES","a":2.5,"f":0.148},{"t":"ES","a":2.8,"f":0.126},{"t":"ES","a":3.1,"f":0.108},{"t":"ES","a":3.4,"f":0.09},{"t":"ES","a":3.7,"f":0.068},{"t":"ES","a":4,"f":0.055},{"t":"ES","a":4.3,"f":0.037},{"t":"ES","a":4.6,"f":0.024},{"t":"ES","a":5,"f":0.015},{"t":"ES","a":6,"f":0.006},{"t":"ES","a":8,"f":0.002},
{"t":"D","a":0,"f":0.01},{"t":"D","a":0.2,"f":0.06},{"t":"D","a":0.4,"f":0.153},{"t":"D","a":0.7,"f":0.184},{"t":"D","a":1,"f":0.18},{"t":"D","a":1.2,"f":0.162},{"t":"D","a":1.5,"f":0.162},{"t":"D","a":1.8,"f":0.144},{"t":"D","a":2,"f":0.126},{"t":"D","a":2.2,"f":0.1},{"t":"D","a":2.5,"f":0.082},{"t":"D","a":2.8,"f":0.064},{"t":"D","a":3,"f":0.064},{"t":"D","a":3.3,"f":0.068},{"t":"D","a":3.6,"f":0.077},{"t":"D","a":4,"f":0.09},{"t":"D","a":4.3,"f":0.077},{"t":"D","a":4.6,"f":0.055},{"t":"D","a":5,"f":0.028},{"t":"D","a":5.5,"f":0.028},{"t":"D","a":6,"f":0.037},{"t":"D","a":6.5,"f":0.024},{"t":"D","a":7,"f":0.02},{"t":"D","a":7.5,"f":0.015},{"t":"D","a":8,"f":0.006}
],
"PRD_DJF":[
{"t":"M","a":0,"f":0.18},{"t":"M","a":0.1,"f":0.18},{"t":"M","a":0.4,"f":0.172},{"t":"M","a":0.7,"f":0.167},{"t":"M","a":1,"f":0.158},{"t":"M","a":1.3,"f":0.132},{"t":"M","a":1.6,"f":0.105},{"t":"M","a":1.9,"f":0.087},{"t":"M","a":2.1,"f":0.06},{"t":"M","a":2.3,"f":0.038},{"t":"M","a":2.5,"f":0.016},{"t":"M","a":2.7,"f":0.003},{"t":"M","a":3,"f":0},
{"t":"DM","a":0,"f":0.132},{"t":"DM","a":0.3,"f":0.132},{"t":"DM","a":0.6,"f":0.123},{"t":"DM","a":1,"f":0.1},{"t":"DM","a":1.3,"f":0.078},{"t":"DM","a":1.6,"f":0.06},{"t":"DM","a":1.9,"f":0.052},{"t":"DM","a":2.2,"f":0.047},{"t":"DM","a":2.5,"f":0.029},{"t":"DM","a":2.8,"f":0.012},{"t":"DM","a":3,"f":0.005},{"t":"DM","a":3.5,"f":0},
{"t":"PC","a":0,"f":0},{"t":"PC","a":0.1,"f":0.15},{"t":"PC","a":0.3,"f":0.31},{"t":"PC","a":0.5,"f":0.47},{"t":"PC","a":0.7,"f":0.527},{"t":"PC","a":0.85,"f":0.523},{"t":"PC","a":1,"f":0.487},{"t":"PC","a":1.2,"f":0.354},{"t":"PC","a":1.5,"f":0.238},{"t":"PC","a":1.8,"f":0.203},{"t":"PC","a":2,"f":0.167},{"t":"PC","a":2.2,"f":0.105},{"t":"PC","a":2.4,"f":0.043},{"t":"PC","a":2.6,"f":0.016},{"t":"PC","a":3,"f":0.008},{"t":"PC","a":4,"f":0.003},{"t":"PC","a":5,"f":0},
{"t":"CC","a":0,"f":0.003},{"t":"CC","a":0.5,"f":0.005},{"t":"CC","a":1.3,"f":0.006},{"t":"CC","a":1.4,"f":0.03},{"t":"CC","a":1.5,"f":0.034},{"t":"CC","a":1.8,"f":0.016},{"t":"CC","a":2,"f":0.012},{"t":"CC","a":2.3,"f":0.029},{"t":"CC","a":2.6,"f":0.02},{"t":"CC","a":3,"f":0.025},{"t":"CC","a":3.3,"f":0.016},{"t":"CC","a":3.6,"f":0.02},{"t":"CC","a":4,"f":0.016},{"t":"CC","a":4.5,"f":0.007},{"t":"CC","a":5,"f":0.003},{"t":"CC","a":6,"f":0},
{"t":"PD","a":0,"f":0},{"t":"PD","a":0.1,"f":0.176},{"t":"PD","a":0.3,"f":0.354},{"t":"PD","a":0.5,"f":0.505},{"t":"PD","a":0.7,"f":0.576},{"t":"PD","a":0.8,"f":0.594},{"t":"PD","a":0.95,"f":0.567},{"t":"PD","a":1.1,"f":0.505},{"t":"PD","a":1.3,"f":0.398},{"t":"PD","a":1.5,"f":0.265},{"t":"PD","a":1.7,"f":0.22},{"t":"PD","a":1.9,"f":0.216},{"t":"PD","a":2.1,"f":0.238},{"t":"PD","a":2.3,"f":0.256},{"t":"PD","a":2.5,"f":0.203},{"t":"PD","a":2.7,"f":0.167},{"t":"PD","a":3,"f":0.132},{"t":"PD","a":3.3,"f":0.105},{"t":"PD","a":3.6,"f":0.087},{"t":"PD","a":3.9,"f":0.043},{"t":"PD","a":4.1,"f":0.016},{"t":"PD","a":4.5,"f":0.007},{"t":"PD","a":5,"f":0.003},{"t":"PD","a":8,"f":0},
{"t":"ES","a":0,"f":0.002},{"t":"ES","a":0.5,"f":0.012},{"t":"ES","a":1,"f":0.025},{"t":"ES","a":1.3,"f":0.052},{"t":"ES","a":1.6,"f":0.105},{"t":"ES","a":1.9,"f":0.158},{"t":"ES","a":2.2,"f":0.212},{"t":"ES","a":2.4,"f":0.247},{"t":"ES","a":2.6,"f":0.283},{"t":"ES","a":2.75,"f":0.292},{"t":"ES","a":2.9,"f":0.274},{"t":"ES","a":3.1,"f":0.238},{"t":"ES","a":3.4,"f":0.185},{"t":"ES","a":3.7,"f":0.132},{"t":"ES","a":3.9,"f":0.078},{"t":"ES","a":4.1,"f":0.029},{"t":"ES","a":4.3,"f":0.012},{"t":"ES","a":4.6,"f":0.003},{"t":"ES","a":6,"f":0.004},{"t":"ES","a":8,"f":0},
{"t":"D","a":0,"f":0.005},{"t":"D","a":0.2,"f":0.04},{"t":"D","a":0.4,"f":0.069},{"t":"D","a":0.7,"f":0.078},{"t":"D","a":1,"f":0.06},{"t":"D","a":1.3,"f":0.043},{"t":"D","a":1.6,"f":0.047},{"t":"D","a":1.9,"f":0.047},{"t":"D","a":2.2,"f":0.038},{"t":"D","a":2.5,"f":0.029},{"t":"D","a":2.8,"f":0.02},{"t":"D","a":3.2,"f":0.02},{"t":"D","a":3.6,"f":0.016},{"t":"D","a":4,"f":0.012},{"t":"D","a":4.5,"f":0.005},{"t":"D","a":5,"f":0.002},{"t":"D","a":8,"f":0.002}
]
},
"columns":3,
"spacing":{"row":27,"column":27},
"resolve":{"legend":{"color":"independent","strokeDash":"independent"}},
"concat":[
{"width":298,"height":302,"title":{"text":"BTH"},"layer":[
{"data":{"name":"BTH_MAM"},"mark":{"type":"line","strokeWidth":1.8},"encoding":{
"x":{"field":"f","type":"quantitative","scale":{"domain":[0,0.8]},"axis":{"values":[0,0.2,0.4,0.6,0.8],"labelExpr":"datum.value==0?'0':format(datum.value,'.1f')","title":null}},
"y":{"field":"a","type":"quantitative","scale":{"domain":[0,8]},"axis":{"values":[0,2,4,6,8],"title":"Altitude(km)"}},
"color":{"field":"t","type":"nominal","scale":{"domain":["M","DM","PC","CC","PD","ES","D"],"range":["#1b1bc8","#2b8cbf","#e3a04a","#1f9a3a","#8c3b1e","#111111","#ebe33c"]},"legend":{"title":null,"orient":"top-right","offset":3,"labelExpr":"datum.label=='M'?'Marine':datum.label=='DM'?'Dusty marine':datum.label=='PC'?'Polluted Continental/smoke':datum.label=='CC'?'Clean Continental':datum.label=='PD'?'Polluted Dust':datum.label=='ES'?'Elevated smoke':'Dust'"}},
"strokeDash":{"field":"t","type":"nominal","scale":{"domain":["M","DM","PC","CC","PD","ES","D"],"range":[[1,0],[1,0],[3,2],[1,0],[1,0],[6,2,1.5,2],[1,0]]},"legend":{"title":null,"orient":"top-right","offset":3,"labelExpr":"datum.label=='M'?'Marine':datum.label=='DM'?'Dusty marine':datum.label=='PC'?'Polluted Continental/smoke':datum.label=='CC'?'Clean Continental':datum.label=='PD'?'Polluted Dust':datum.label=='ES'?'Elevated smoke':'Dust'"}},
"order":{"field":"a","type":"quantitative"}}},
{"data":{"values":[{"s":"MAM"}]},"mark":{"type":"text","fontSize":23,"color":"#222"},"encoding":{"x":{"datum":0.71},"y":{"datum":0.6},"text":{"field":"s"}}}
]},
{"width":298,"height":302,"title":{"text":"YRD"},"layer":[
{"data":{"name":"YRD_MAM"},"mark":{"type":"line","strokeWidth":1.8},"encoding":{
"x":{"field":"f","type":"quantitative","scale":{"domain":[0,0.8]},"axis":{"values":[0,0.2,0.4,0.6,0.8],"labelExpr":"datum.value==0?'0':format(datum.value,'.1f')","title":null}},
"y":{"field":"a","type":"quantitative","scale":{"domain":[0,8]},"axis":{"values":[0,2,4,6,8],"title":null}},
"color":{"field":"t","type":"nominal","scale":{"domain":["M","DM","PC","CC","PD","ES","D"],"range":["#1b1bc8","#2b8cbf","#e3a04a","#1f9a3a","#8c3b1e","#111111","#ebe33c"]},"legend":null},
"strokeDash":{"field":"t","type":"nominal","scale":{"domain":["M","DM","PC","CC","PD","ES","D"],"range":[[1,0],[1,0],[3,2],[1,0],[1,0],[6,2,1.5,2],[1,0]]},"legend":null},
"order":{"field":"a","type":"quantitative"}}},
{"data":{"values":[{"s":"MAM"}]},"mark":{"type":"text","fontSize":23,"color":"#222"},"encoding":{"x":{"datum":0.7},"y":{"datum":0.6},"text":{"field":"s"}}}
]},
{"width":298,"height":302,"title":{"text":"PRD"},"layer":[
{"data":{"name":"PRD_MAM"},"mark":{"type":"line","strokeWidth":1.8},"encoding":{
"x":{"field":"f","type":"quantitative","scale":{"domain":[0,0.8]},"axis":{"values":[0,0.2,0.4,0.6,0.8],"labelExpr":"datum.value==0?'0':format(datum.value,'.1f')","title":null}},
"y":{"field":"a","type":"quantitative","scale":{"domain":[0,8]},"axis":{"values":[0,2,4,6,8],"title":null}},
"color":{"field":"t","type":"nominal","scale":{"domain":["M","DM","PC","CC","PD","ES","D"],"range":["#1b1bc8","#2b8cbf","#e3a04a","#1f9a3a","#8c3b1e","#111111","#ebe33c"]},"legend":null},
"strokeDash":{"field":"t","type":"nominal","scale":{"domain":["M","DM","PC","CC","PD","ES","D"],"range":[[1,0],[1,0],[3,2],[1,0],[1,0],[6,2,1.5,2],[1,0]]},"legend":null},
"order":{"field":"a","type":"quantitative"}}},
{"data":{"values":[{"s":"MAM"}]},"mark":{"type":"text","fontSize":23,"color":"#222"},"encoding":{"x":{"datum":0.69},"y":{"datum":0.65},"text":{"field":"s"}}}
]},
{"width":298,"height":302,"layer":[
{"data":{"name":"BTH_JJA"},"mark":{"type":"line","strokeWidth":1.8},"encoding":{
"x":{"field":"f","type":"quantitative","scale":{"domain":[0,0.8]},"axis":{"values":[0,0.2,0.4,0.6,0.8],"labelExpr":"datum.value==0?'0':format(datum.value,'.1f')","title":null}},
"y":{"field":"a","type":"quantitative","scale":{"domain":[0,8]},"axis":{"values":[0,2,4,6,8],"title":"Altitude(km)"}},
"color":{"field":"t","type":"nominal","scale":{"domain":["M","DM","PC","CC","PD","ES","D"],"range":["#1b1bc8","#2b8cbf","#e3a04a","#1f9a3a","#8c3b1e","#111111","#ebe33c"]},"legend":null},
"strokeDash":{"field":"t","type":"nominal","scale":{"domain":["M","DM","PC","CC","PD","ES","D"],"range":[[1,0],[1,0],[3,2],[1,0],[1,0],[6,2,1.5,2],[1,0]]},"legend":null},
"order":{"field":"a","type":"quantitative"}}},
{"data":{"values":[{"s":"JJA"}]},"mark":{"type":"text","fontSize":23,"color":"#222"},"encoding":{"x":{"datum":0.735},"y":{"datum":0.45},"text":{"field":"s"}}}
]},
{"width":298,"height":302,"layer":[
{"data":{"name":"YRD_JJA"},"mark":{"type":"line","strokeWidth":1.8},"encoding":{
"x":{"field":"f","type":"quantitative","scale":{"domain":[0,0.8]},"axis":{"values":[0,0.2,0.4,0.6,0.8],"labelExpr":"datum.value==0?'0':format(datum.value,'.1f')","title":null}},
"y":{"field":"a","type":"quantitative","scale":{"domain":[0,8]},"axis":{"values":[0,2,4,6,8],"title":null}},
"color":{"field":"t","type":"nominal","scale":{"domain":["M","DM","PC","CC","PD","ES","D"],"range":["#1b1bc8","#2b8cbf","#e3a04a","#1f9a3a","#8c3b1e","#111111","#ebe33c"]},"legend":null},
"strokeDash":{"field":"t","type":"nominal","scale":{"domain":["M","DM","PC","CC","PD","ES","D"],"range":[[1,0],[1,0],[3,2],[1,0],[1,0],[6,2,1.5,2],[1,0]]},"legend":null},
"order":{"field":"a","type":"quantitative"}}},
{"data":{"values":[{"s":"JJA"}]},"mark":{"type":"text","fontSize":23,"color":"#222"},"encoding":{"x":{"datum":0.72},"y":{"datum":0.5},"text":{"field":"s"}}}
]},
{"width":298,"height":302,"layer":[
{"data":{"name":"PRD_JJA"},"mark":{"type":"line","strokeWidth":1.8},"encoding":{
"x":{"field":"f","type":"quantitative","scale":{"domain":[0,0.8]},"axis":{"values":[0,0.2,0.4,0.6,0.8],"labelExpr":"datum.value==0?'0':format(datum.value,'.1f')","title":null}},
"y":{"field":"a","type":"quantitative","scale":{"domain":[0,8]},"axis":{"values":[0,2,4,6,8],"title":null}},
"color":{"field":"t","type":"nominal","scale":{"domain":["M","DM","PC","CC","PD","ES","D"],"range":["#1b1bc8","#2b8cbf","#e3a04a","#1f9a3a","#8c3b1e","#111111","#ebe33c"]},"legend":null},
"strokeDash":{"field":"t","type":"nominal","scale":{"domain":["M","DM","PC","CC","PD","ES","D"],"range":[[1,0],[1,0],[3,2],[1,0],[1,0],[6,2,1.5,2],[1,0]]},"legend":null},
"order":{"field":"a","type":"quantitative"}}},
{"data":{"values":[{"s":"JJA"}]},"mark":{"type":"text","fontSize":23,"color":"#222"},"encoding":{"x":{"datum":0.725},"y":{"datum":0.55},"text":{"field":"s"}}}
]},
{"width":298,"height":302,"layer":[
{"data":{"name":"BTH_SON"},"mark":{"type":"line","strokeWidth":1.8},"encoding":{
"x":{"field":"f","type":"quantitative","scale":{"domain":[0,0.8]},"axis":{"values":[0,0.2,0.4,0.6,0.8],"labelExpr":"datum.value==0?'0':format(datum.value,'.1f')","title":null}},
"y":{"field":"a","type":"quantitative","scale":{"domain":[0,8]},"axis":{"values":[0,2,4,6,8],"title":"Altitude(km)"}},
"color":{"field":"t","type":"nominal","scale":{"domain":["M","DM","PC","CC","PD","ES","D"],"range":["#1b1bc8","#2b8cbf","#e3a04a","#1f9a3a","#8c3b1e","#111111","#ebe33c"]},"legend":null},
"strokeDash":{"field":"t","type":"nominal","scale":{"domain":["M","DM","PC","CC","PD","ES","D"],"range":[[1,0],[1,0],[3,2],[1,0],[1,0],[6,2,1.5,2],[1,0]]},"legend":null},
"order":{"field":"a","type":"quantitative"}}},
{"data":{"values":[{"s":"SON"}]},"mark":{"type":"text","fontSize":23,"color":"#222"},"encoding":{"x":{"datum":0.715},"y":{"datum":0.55},"text":{"field":"s"}}}
]},
{"width":298,"height":302,"layer":[
{"data":{"name":"YRD_SON"},"mark":{"type":"line","strokeWidth":1.8},"encoding":{
"x":{"field":"f","type":"quantitative","scale":{"domain":[0,0.8]},"axis":{"values":[0,0.2,0.4,0.6,0.8],"labelExpr":"datum.value==0?'0':format(datum.value,'.1f')","title":null}},
"y":{"field":"a","type":"quantitative","scale":{"domain":[0,8]},"axis":{"values":[0,2,4,6,8],"title":null}},
"color":{"field":"t","type":"nominal","scale":{"domain":["M","DM","PC","CC","PD","ES","D"],"range":["#1b1bc8","#2b8cbf","#e3a04a","#1f9a3a","#8c3b1e","#111111","#ebe33c"]},"legend":null},
"strokeDash":{"field":"t","type":"nominal","scale":{"domain":["M","DM","PC","CC","PD","ES","D"],"range":[[1,0],[1,0],[3,2],[1,0],[1,0],[6,2,1.5,2],[1,0]]},"legend":null},
"order":{"field":"a","type":"quantitative"}}},
{"data":{"values":[{"s":"SON"}]},"mark":{"type":"text","fontSize":23,"color":"#222"},"encoding":{"x":{"datum":0.705},"y":{"datum":0.55},"text":{"field":"s"}}}
]},
{"width":298,"height":302,"layer":[
{"data":{"name":"PRD_SON"},"mark":{"type":"line","strokeWidth":1.8},"encoding":{
"x":{"field":"f","type":"quantitative","scale":{"domain":[0,0.8]},"axis":{"values":[0,0.2,0.4,0.6,0.8],"labelExpr":"datum.value==0?'0':format(datum.value,'.1f')","title":null}},
"y":{"field":"a","type":"quantitative","scale":{"domain":[0,8]},"axis":{"values":[0,2,4,6,8],"title":null}},
"color":{"field":"t","type":"nominal","scale":{"domain":["M","DM","PC","CC","PD","ES","D"],"range":["#1b1bc8","#2b8cbf","#e3a04a","#1f9a3a","#8c3b1e","#111111","#ebe33c"]},"legend":null},
"strokeDash":{"field":"t","type":"nominal","scale":{"domain":["M","DM","PC","CC","PD","ES","D"],"range":[[1,0],[1,0],[3,2],[1,0],[1,0],[6,2,1.5,2],[1,0]]},"legend":null},
"order":{"field":"a","type":"quantitative"}}},
{"data":{"values":[{"s":"SON"}]},"mark":{"type":"text","fontSize":23,"color":"#222"},"encoding":{"x":{"datum":0.72},"y":{"datum":0.6},"text":{"field":"s"}}}
]},
{"width":298,"height":302,"layer":[
{"data":{"name":"BTH_DJF"},"mark":{"type":"line","strokeWidth":1.8},"encoding":{
"x":{"field":"f","type":"quantitative","scale":{"domain":[0,0.8]},"axis":{"values":[0,0.2,0.4,0.6,0.8],"labelExpr":"datum.value==0?'0':format(datum.value,'.1f')","title":"Frequency(%)"}},
"y":{"field":"a","type":"quantitative","scale":{"domain":[0,8]},"axis":{"values":[0,2,4,6,8],"title":"Altitude(km)"}},
"color":{"field":"t","type":"nominal","scale":{"domain":["M","DM","PC","CC","PD","ES","D"],"range":["#1b1bc8","#2b8cbf","#e3a04a","#1f9a3a","#8c3b1e","#111111","#ebe33c"]},"legend":null},
"strokeDash":{"field":"t","type":"nominal","scale":{"domain":["M","DM","PC","CC","PD","ES","D"],"range":[[1,0],[1,0],[3,2],[1,0],[1,0],[6,2,1.5,2],[1,0]]},"legend":null},
"order":{"field":"a","type":"quantitative"}}},
{"data":{"values":[{"s":"DJF"}]},"mark":{"type":"text","fontSize":23,"color":"#222"},"encoding":{"x":{"datum":0.727},"y":{"datum":0.75},"text":{"field":"s"}}}
]},
{"width":298,"height":302,"layer":[
{"data":{"name":"YRD_DJF"},"mark":{"type":"line","strokeWidth":1.8},"encoding":{
"x":{"field":"f","type":"quantitative","scale":{"domain":[0,0.8]},"axis":{"values":[0,0.2,0.4,0.6,0.8],"labelExpr":"datum.value==0?'0':format(datum.value,'.1f')","title":"Frequency(%)"}},
"y":{"field":"a","type":"quantitative","scale":{"domain":[0,8]},"axis":{"values":[0,2,4,6,8],"title":null}},
"color":{"field":"t","type":"nominal","scale":{"domain":["M","DM","PC","CC","PD","ES","D"],"range":["#1b1bc8","#2b8cbf","#e3a04a","#1f9a3a","#8c3b1e","#111111","#ebe33c"]},"legend":null},
"strokeDash":{"field":"t","type":"nominal","scale":{"domain":["M","DM","PC","CC","PD","ES","D"],"range":[[1,0],[1,0],[3,2],[1,0],[1,0],[6,2,1.5,2],[1,0]]},"legend":null},
"order":{"field":"a","type":"quantitative"}}},
{"data":{"values":[{"s":"DJF"}]},"mark":{"type":"text","fontSize":23,"color":"#222"},"encoding":{"x":{"datum":0.725},"y":{"datum":0.75},"text":{"field":"s"}}}
]},
{"width":298,"height":302,"layer":[
{"data":{"name":"PRD_DJF"},"mark":{"type":"line","strokeWidth":1.8},"encoding":{
"x":{"field":"f","type":"quantitative","scale":{"domain":[0,0.8]},"axis":{"values":[0,0.2,0.4,0.6,0.8],"labelExpr":"datum.value==0?'0':format(datum.value,'.1f')","title":"Frequency(%)"}},
"y":{"field":"a","type":"quantitative","scale":{"domain":[0,8]},"axis":{"values":[0,2,4,6,8],"title":null}},
"color":{"field":"t","type":"nominal","scale":{"domain":["M","DM","PC","CC","PD","ES","D"],"range":["#1b1bc8","#2b8cbf","#e3a04a","#1f9a3a","#8c3b1e","#111111","#ebe33c"]},"legend":null},
"strokeDash":{"field":"t","type":"nominal","scale":{"domain":["M","DM","PC","CC","PD","ES","D"],"range":[[1,0],[1,0],[3,2],[1,0],[1,0],[6,2,1.5,2],[1,0]]},"legend":null},
"order":{"field":"a","type":"quantitative"}}},
{"data":{"values":[{"s":"DJF"}]},"mark":{"type":"text","fontSize":23,"color":"#222"},"encoding":{"x":{"datum":0.733},"y":{"datum":0.75},"text":{"field":"s"}}}
]}
],
"config":{
"font":"Liberation Sans",
"view":{"stroke":"#8c8c8c","strokeWidth":1},
"axis":{"labelFontSize":19,"labelColor":"#333333","titleFontSize":20,"titleFontWeight":"normal","titleColor":"#333333","gridColor":"#e4e4e4","domain":false,"ticks":false,"labelFlush":false,"labelOverlap":false},
"axisX":{"labelPadding":10,"titlePadding":12},
"axisY":{"labelPadding":9,"titlePadding":9},
"title":{"fontSize":27,"font":"Lato","fontWeight":"bold","color":"#000000","offset":14},
"legend":{"fillColor":"white","strokeColor":"#555555","padding":5,"labelFontSize":13.5,"labelFontWeight":"bold","labelColor":"#222","labelLimit":280,"symbolType":"M-1.6,0H1.6","symbolSize":400,"symbolStrokeWidth":2,"rowPadding":0,"labelOffset":12,"cornerRadius":0}
}
}
